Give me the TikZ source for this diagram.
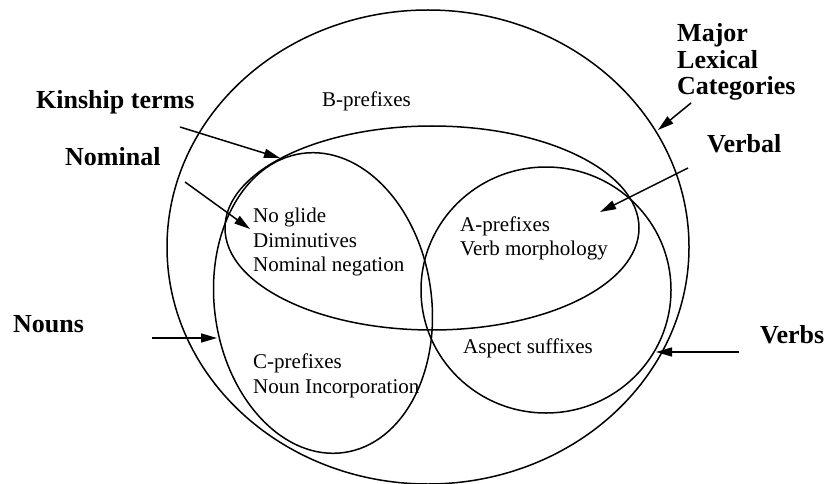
\documentclass[tikz,border=0pt]{standalone}
\usepackage{fontspec}
\setmainfont{Liberation Serif}
\usetikzlibrary{arrows.meta}
\begin{document}
\begin{tikzpicture}[x=1pt,y=-1pt,
  setline/.style={line width=1.5pt},
  pointer/.style={line width=1.5pt,-{Triangle[length=16pt,width=9pt]}},
  lbl/.style={font=\fontsize{26}{27}\selectfont\bfseries, anchor=base west, inner sep=0pt},
  txt/.style={font=\fontsize{21}{24}\selectfont, anchor=base west, inner sep=0pt}]
\useasboundingbox (0,0) rectangle (827,484);
% set centres
\coordinate (outerc) at (428,247);
\coordinate (widec) at (432,228);
\coordinate (nounc) at (323,303);
\coordinate (verbc) at (546,290);
\draw[setline] (outerc) ellipse [x radius=261pt, y radius=237pt];
\draw[setline] (widec) ellipse [x radius=207pt, y radius=102pt];
\draw[setline, rotate around={8:(nounc)}] (nounc) ellipse [x radius=108.5pt, y radius=151pt];
\draw[setline] (verbc) ellipse [x radius=125pt, y radius=123pt];
% inner texts
\node[txt] (bpre) at (322,107) {B-prefixes};
\node[txt] (nogl) at (253,222) {No glide};
\node[txt] (dimi) at (253,247) {Diminutives};
\node[txt] (nomn) at (253,271) {Nominal negation};
\node[txt] (apre) at (460,231) {A-prefixes};
\node[txt] (vmor) at (460,255) {Verb morphology};
\node[txt] (asps) at (463,353) {Aspect suffixes};
\node[txt] (cpre) at (253,368) {C-prefixes};
\node[txt] (ninc) at (253,393) {Noun Incorporation};
% outer labels
\node[lbl] (kin) at (36,109) {Kinship terms};
\node[lbl] (nomi) at (65,165) {Nominal};
\node[lbl] (noun) at (13,332) {Nouns};
\node[lbl] (maj1) at (677,42) {Major};
\node[lbl] (maj2) at (677,69) {Lexical};
\node[lbl] (maj3) at (677,95) {Categories};
\node[lbl] (verbal) at (707,153) {Verbal};
\node[lbl] (verbs) at (760,343) {Verbs};
% arrow ends
\coordinate (kinS) at (180,127);  \coordinate (kinT) at (280,158);
\coordinate (nomS) at (185,182);  \coordinate (nomT) at (250,229);
\coordinate (nouS) at (152,338);  \coordinate (nouT) at (217,338);
\coordinate (majS) at (691,103);  \coordinate (majT) at (658,130);
\coordinate (vblS) at (688,168);  \coordinate (vblT) at (600,212);
\coordinate (vbsS) at (739,352);  \coordinate (vbsT) at (656,352);
\draw[pointer] (kinS) -- (kinT);
\draw[pointer] (nomS) -- (nomT);
\draw[pointer] (nouS) -- (nouT);
\draw[pointer] (majS) -- (majT);
\draw[pointer] (vblS) -- (vblT);
\draw[pointer] (vbsS) -- (vbsT);
\end{tikzpicture}
\end{document}
